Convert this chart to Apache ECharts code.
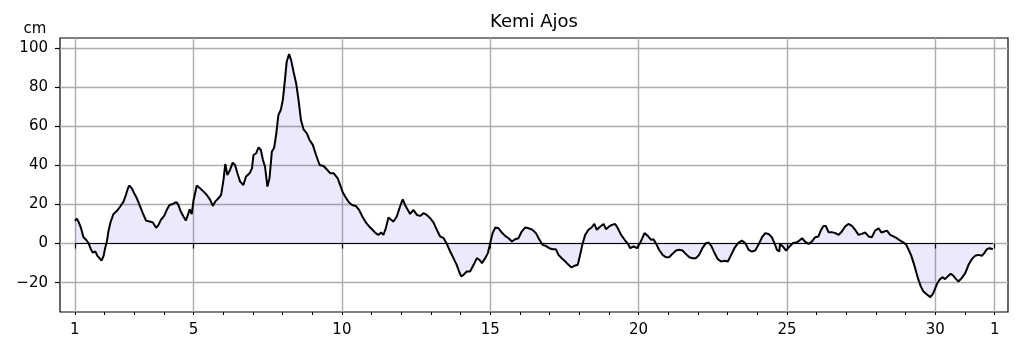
<!DOCTYPE html>
<html>
<head>
<meta charset="utf-8">
<title>Kemi Ajos</title>
<script src="https://cdn.jsdelivr.net/npm/echarts@6.0.0/dist/echarts.min.js"></script>
<style>
  html, body { margin: 0; padding: 0; background: #fff; }
  #chart { width: 1019px; height: 352px; }
</style>
</head>
<body>
<div id="chart"></div>
<script>
// sea level (cm) against day of month
var days = [
  1.00, 1.07, 1.12, 1.20, 1.29, 1.38, 1.46, 1.54, 1.60, 1.69, 1.76, 1.83, 1.90, 1.97, 2.02, 2.08,
  2.13, 2.21, 2.30, 2.42, 2.53, 2.64, 2.72, 2.79, 2.84, 2.92, 3.00, 3.09, 3.18, 3.29, 3.40, 3.52,
  3.63, 3.74, 3.82, 3.90, 4.01, 4.10, 4.19, 4.30, 4.42, 4.49, 4.57, 4.66, 4.74, 4.81, 4.87, 4.94,
  5.00, 5.11, 5.22, 5.34, 5.45, 5.56, 5.65, 5.73, 5.84, 5.93, 6.01, 6.07, 6.14, 6.23, 6.32, 6.40,
  6.48, 6.57, 6.68, 6.77, 6.89, 6.97, 7.02, 7.11, 7.19, 7.27, 7.34, 7.41, 7.49, 7.56, 7.64, 7.72,
  7.79, 7.86, 7.94, 8.01, 8.08, 8.14, 8.22, 8.29, 8.37, 8.46, 8.54, 8.62, 8.71, 8.82, 8.91, 9.02,
  9.13, 9.25, 9.38, 9.49, 9.61, 9.72,
  9.86, 9.94, 10.02, 10.11, 10.22, 10.34, 10.47, 10.58, 10.69, 10.81, 10.92, 11.03, 11.14, 11.23,
  11.32, 11.40, 11.48, 11.57, 11.66, 11.74, 11.85, 11.96, 12.05, 12.13, 12.22, 12.30, 12.41, 12.53,
  12.64, 12.75, 12.86, 12.98, 13.09, 13.20, 13.31, 13.43, 13.54, 13.65, 13.76, 13.87, 13.95, 14.02,
  14.10, 14.21, 14.32, 14.44, 14.55, 14.63, 14.72, 14.83,
  14.92, 15.00, 15.08, 15.17, 15.28, 15.39, 15.50, 15.62, 15.73, 15.84, 15.95, 16.06, 16.18, 16.29,
  16.42, 16.54, 16.65, 16.76, 16.87, 16.99, 17.10, 17.21, 17.30, 17.41, 17.53, 17.64, 17.73, 17.84,
  17.95, 18.03, 18.11, 18.20, 18.31, 18.42, 18.51, 18.59, 18.71, 18.82, 18.90, 19.01, 19.10, 19.21,
  19.30, 19.41, 19.53, 19.64, 19.72, 19.83, 19.94, 20.05,
  20.20, 20.31, 20.42, 20.50, 20.58, 20.69, 20.81, 20.92, 21.03, 21.14, 21.26, 21.37, 21.48, 21.59,
  21.71, 21.82, 21.93, 22.04, 22.15, 22.27, 22.36, 22.45, 22.56, 22.67, 22.78, 22.90, 23.01, 23.12,
  23.23, 23.35, 23.48, 23.59, 23.71, 23.82, 23.93, 24.04, 24.16, 24.27, 24.38, 24.49, 24.58, 24.66,
  24.74,
  24.77, 24.86, 24.97, 25.09, 25.20, 25.31, 25.42, 25.51, 25.61, 25.73, 25.84, 25.95, 26.06, 26.14,
  26.23, 26.31, 26.40, 26.51, 26.63, 26.74, 26.85, 26.96, 27.07, 27.19, 27.30, 27.41, 27.52, 27.64,
  27.75, 27.86, 27.97, 28.09, 28.18, 28.28, 28.37, 28.48, 28.59, 28.70, 28.82, 28.93, 29.02, 29.10,
  29.18, 29.27, 29.36, 29.43, 29.51, 29.60, 29.71, 29.83, 29.92, 30.00, 30.07, 30.16, 30.25, 30.33,
  30.42, 30.52, 30.61, 30.70, 30.78, 30.89, 31.01, 31.12, 31.23, 31.34, 31.46, 31.57, 31.65, 31.74,
  31.83, 31.94
];
var level = [
  11.6, 12.6, 11.2, 8.3, 3.2, 1.9, 0.2, -2.9, -4.6, -4.1, -6.3, -7.5, -8.8, -6.3, -2.4, 1.0,
  6.1, 11.2, 15.0, 16.7, 18.9, 21.4, 24.8, 28.2, 29.6, 28.2, 25.7, 23.1, 19.7, 15.5, 11.7, 11.2,
  10.7, 8.0, 9.5, 12.1, 14.1, 17.2, 19.7, 20.2, 21.1, 19.7, 16.3, 13.8, 11.7, 14.6, 17.5, 15.0,
  22.0, 29.6, 28.2, 26.5, 24.8, 22.3, 19.2, 21.4, 23.1, 24.8, 32.5, 40.6, 35.0, 37.6, 41.3, 40.1,
  35.9, 31.6, 29.9, 34.2, 35.9, 38.4, 45.2, 46.1, 49.1, 47.8, 42.7, 39.3, 29.1, 33.3, 46.9, 49.1,
  56.3, 65.6, 68.2, 73.3, 83.5, 92.9, 96.8, 93.7, 87.8, 81.8, 73.3, 63.1, 58.3, 56.3, 52.9, 50.4,
  45.2, 40.1, 39.6, 37.9, 35.9, 35.9,
  33.3, 30.0, 26.5, 24.0, 21.4, 19.7, 19.2, 17.2, 13.8, 10.7, 8.7, 7.0, 5.3, 4.4,
  5.6, 4.4, 7.8, 13.3, 12.1, 11.2, 13.8, 18.9, 22.6, 19.7, 17.2, 15.1, 17.2, 14.6,
  14.1, 15.5, 14.6, 12.9, 10.7, 7.0, 3.6, 2.7, -0.3, -4.1, -7.5, -10.9, -14.3, -16.8,
  -16.0, -14.3, -14.3, -10.9, -7.5, -8.3, -10.0, -7.5,
  -4.9, 0.2, 5.3, 8.2, 7.8, 5.6, 3.9, 2.7, 1.0, 2.2, 2.7, 6.1, 8.2, 7.8,
  7.0, 5.3, 2.2, -0.7, -1.2, -2.4, -2.9, -2.9, -5.8, -7.5, -9.2, -10.9, -12.2, -11.4,
  -10.9, -5.8, -0.2, 4.4, 7.0, 8.2, 10.0, 7.0, 8.7, 10.0, 7.3, 8.7, 9.5, 10.0,
  7.8, 4.4, 1.9, -0.2, -2.4, -1.5, -2.4, 0.2,
  5.3, 3.9, 1.9, 2.2, 0.2, -3.2, -5.8, -7.0, -7.0, -5.3, -3.6, -3.2, -3.6, -5.3,
  -7.0, -7.5, -7.5, -5.8, -2.4, 0.2, 0.5, -1.2, -4.9, -8.0, -9.2, -8.8, -9.2, -5.8,
  -2.4, 0.2, 1.5, 0.2, -3.2, -4.1, -3.6, -0.7, 3.2, 5.3, 4.9, 3.2, 0.2, -3.2,
  -4.1,
  -0.2, -1.5, -3.6, -1.5, 0.2, 0.5, 1.5, 2.7, 1.0, -0.2, 1.0, 3.2, 3.6, 6.6,
  9.0, 9.0, 5.8, 5.8, 5.3, 4.4, 6.1, 8.7, 10.0, 9.0, 7.0, 4.4, 4.9, 5.6,
  3.6, 3.2, 6.6, 7.8, 5.6, 6.1, 6.6, 4.4, 3.6, 2.7, 1.5, 0.5, -0.7, -3.2,
  -5.8, -10.0, -14.8, -18.5, -21.9, -24.5, -25.9, -27.4, -25.7, -22.8, -20.2, -18.2, -17.2, -18.2,
  -16.8, -15.5, -16.5, -18.2, -19.4, -17.7, -15.1, -10.9, -8.0, -6.3, -5.8, -6.3, -4.9, -2.9,
  -2.4, -2.9
];

// ticks
var dayTicks = [1, 5, 10, 15, 20, 25, 30, 32];
var dayTickLabels = ['1', '5', '10', '15', '20', '25', '30', '1'];
var minorDayTicks = [1, 2, 3, 4, 5, 6, 7, 8, 9, 10, 11, 12, 13, 14, 15, 16,
  17, 18, 19, 20, 21, 22, 23, 24, 25, 26, 27, 28, 29, 30, 31, 32];
var levelTicks = [-20, 0, 20, 40, 60, 80, 100];

var FONT = 'DejaVu Sans';

var seaData = days.map(function (d, i) { return [d, level[i]]; });
var zeroData = [[days[0], 0], [days[days.length - 1], 0]];

var chartDom = document.getElementById('chart');
var myChart = echarts.init(chartDom, null, { renderer: 'canvas' });
var option;

option = {
  backgroundColor: '#ffffff',
  animation: false,
  textStyle: { fontFamily: FONT },
  graphic: [
    {
      type: 'text', x: 534, y: 22, silent: true,
      style: { text: 'Kemi Ajos', fill: '#000', font: '18px "DejaVu Sans"', align: 'center', verticalAlign: 'middle' }
    },
    {
      type: 'text', x: 35, y: 29, silent: true,
      style: { text: 'cm', fill: '#000', font: '15px "DejaVu Sans"', align: 'center', verticalAlign: 'middle' }
    }
  ],
  grid: {
    left: 60, right: 11, top: 38, bottom: 40,
    show: true,
    borderColor: '#000',
    borderWidth: 1.2,
    backgroundColor: 'transparent',
    containLabel: false,
    outerBoundsMode: 'none'
  },
  xAxis: [
    {
      type: 'value',
      min: 0.5,
      max: 32.45,
      position: 'bottom',
      axisLine: { show: false },
      axisTick: {
        show: true,
        customValues: dayTicks,
        length: 5,
        lineStyle: { color: '#000', width: 1.2 }
      },
      axisLabel: {
        customValues: dayTicks,
        formatter: function (v) {
          var k = dayTicks.indexOf(v);
          return k >= 0 ? dayTickLabels[k] : '';
        },
        margin: 11,
        fontSize: 15,
        fontFamily: FONT,
        color: '#000'
      },
      splitLine: {
        show: true,
        lineStyle: { color: '#adadad', width: 1.4 }
      }
    },
    {
      type: 'value',
      min: 0.5,
      max: 32.45,
      position: 'bottom',
      axisLine: { show: false },
      axisLabel: { show: false },
      splitLine: { show: false },
      axisTick: {
        show: true,
        customValues: minorDayTicks,
        length: 3,
        lineStyle: { color: '#000', width: 1 }
      }
    }
  ],
  yAxis: {
    type: 'value',
    min: -35,
    max: 105,
    axisLine: { show: false },
    axisTick: {
      show: true,
      customValues: levelTicks,
      length: 5,
      lineStyle: { color: '#000', width: 1.2 }
    },
    axisLabel: {
      customValues: levelTicks,
      formatter: function (v) { return String(v).replace('-', '\u2212'); },
      margin: 12,
      fontSize: 15,
      fontFamily: FONT,
      color: '#000'
    },
    splitLine: {
      show: true,
      lineStyle: { color: '#adadad', width: 1.4 }
    }
  },
  series: [
    {
      type: 'line',
      name: 'Kemi Ajos',
      data: seaData,
      showSymbol: false,
      symbol: 'none',
      lineStyle: { color: '#000', width: 2 },
      areaStyle: { color: 'rgba(20, 20, 220, 0.13)', origin: 0 },
      z: 3
    },
    {
      // zero line under the fill, from first to last sample
      type: 'line',
      data: zeroData,
      showSymbol: false,
      symbol: 'none',
      lineStyle: { color: '#000', width: 1 },
      z: 2
    }
  ]
};

option && myChart.setOption(option);
window.addEventListener('resize', function () {
  myChart.resize();
});
</script>
</body>
</html>
